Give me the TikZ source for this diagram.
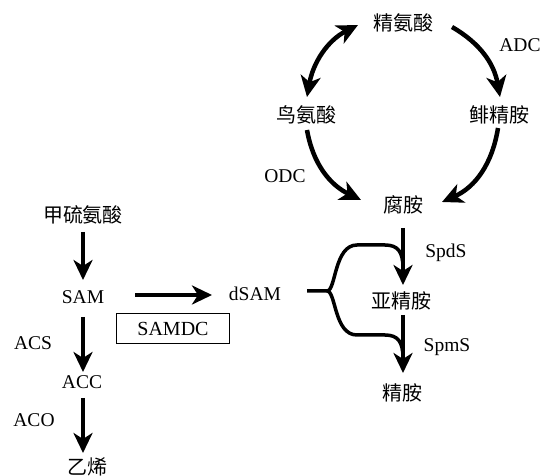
\documentclass[tikz,border=0pt]{standalone}
\usepackage{fontspec}
\setmainfont{Liberation Serif}
\newfontfamily\cjk{Noto Sans CJK SC}
\usetikzlibrary{arrows.meta,calc}
\begin{document}
\begin{tikzpicture}[x=1pt,y=1pt,
  lab/.style={inner sep=0pt, font=\fontsize{19.5}{19.5}\selectfont},
  cn/.style={inner sep=0pt, font=\fontsize{20}{20}\selectfont\cjk},
  arr/.style={line width=4pt, -{Stealth[length=20pt,width=19pt,inset=6pt]}},
  carr/.style={line width=4.5pt, -{Stealth[length=21pt,width=20pt,inset=6pt]}},
  carrb/.style={line width=4.5pt, {Stealth[length=21pt,width=20pt,inset=6pt]}-{Stealth[length=21pt,width=20pt,inset=6pt]}},
  bracel/.style={line width=3.5pt}]
\useasboundingbox (0,0) rectangle (542,-476);

% cycle
\node[cn] (arg) at (403,-23) {精氨酸};
\node[lab] (adc) at (520,-45) {ADC};
\node[cn] (orn) at (306,-115) {鸟氨酸};
\node[cn] (agm) at (499,-115) {鲱精胺};
\node[lab] (odc) at (285,-176) {ODC};
\node[cn] (put) at (403,-205) {腐胺};

\draw[carrb] ($(arg)+(-45,-2)$) to[out=207,in=80] ($(orn)+(1,18)$);
\draw[carr] ($(arg)+(49,-4)$) to[out=-30,in=100] ($(agm)+(1,18)$);
\draw[carr] ($(orn)+(1,-15)$) to[out=-80,in=154] ($(put)+(-42,5)$);
\draw[carr] ($(agm)+(-1,-13)$) to[out=261,in=24] ($(put)+(39,3)$);

% left column
\node[cn] (met) at (83,-215) {甲硫氨酸};
\node[lab] (sam) at (83,-297) {SAM};
\node[lab] (dsam) at (255,-294) {dSAM};
\node[draw, line width=1pt, inner sep=0pt, minimum width=113pt, minimum height=30pt,
      font=\fontsize{20}{20}\selectfont] (samdc) at (173,-329) {SAMDC};
\node[lab] (acs) at (33,-343) {ACS};
\node[lab] (acc) at (82,-382) {ACC};
\node[lab] (aco) at (34,-420) {ACO};
\node[cn] (eth) at (87,-467) {乙烯};

\draw[arr] ($(met)+(0,-17)$) -- ($(sam)+(0,17)$);
\draw[arr] ($(sam)+(0,-20)$) -- ($(acc)+(1,10)$);
\draw[arr] ($(acc)+(1,-16)$) -- ($(eth)+(-4,14)$);
\draw[arr] ($(sam)+(52,2)$) -- ($(dsam)+(-43,-1)$);

% right lower
\node[lab] (spds) at (446,-253) {SpdS};
\node[cn] (spd) at (401,-301) {亚精胺};
\node[lab] (spms) at (447,-347) {SpmS};
\node[cn] (spm) at (402,-393) {精胺};

\draw[arr] ($(put)+(0,-23)$) -- ($(spd)+(2,16)$);
\draw[arr] ($(spd)+(2,-14)$) -- ($(spm)+(1,20)$);

% brace
\coordinate (bs) at ($(dsam)+(52,3)$);
\coordinate (bj) at ($(dsam)+(72,3)$);
\draw[bracel] (bs) -- (bj) .. controls (336,-291) and (334,-245) .. (357,-245) -- (385,-245)
   .. controls (398,-245) and (403,-252) .. (403,-268);
\draw[bracel] (bj) .. controls (336,-291) and (334,-335) .. (357,-335) -- (385,-335)
   .. controls (398,-335) and (403,-342) .. (403,-358);
\end{tikzpicture}
\end{document}
